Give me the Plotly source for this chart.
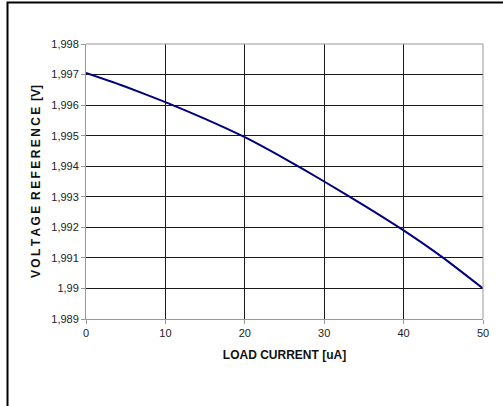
import plotly.graph_objects as go

load_current = [0, 5, 10, 15, 20, 25, 30, 35, 40, 45, 50]
voltage_ref = [1.99705, 1.9966, 1.9961, 1.99555, 1.99495, 1.99425, 1.9935, 1.99272, 1.9919, 1.9910, 1.9900]

y_tickvals = [1.989, 1.990, 1.991, 1.992, 1.993, 1.994, 1.995, 1.996, 1.997, 1.998]
y_ticktext = ["1,989", "1,99", "1,991", "1,992", "1,993", "1,994", "1,995", "1,996", "1,997", "1,998"]
x_tickvals = [0, 10, 20, 30, 40, 50]

W, H = 503, 406
L, R, T, B = 86, 20, 44, 87

fig = go.Figure()
fig.add_trace(go.Scatter(x=load_current, y=voltage_ref, mode="lines",
                         line=dict(color="#000080", width=2, shape="spline", smoothing=0.5),
                         showlegend=False, hoverinfo="skip"))

tick_font = dict(family="Liberation Sans, Arial", size=11, color="#222222")
title_font = dict(family="Liberation Sans, Arial", size=12, color="#111111")

sp = "\u2009"
ytitle = sp.join("VOLTAGE") + sp + " " + sp.join("REFERENCE") + sp + " [V]"

fig.update_layout(
    width=W, height=H,
    margin=dict(l=L, r=R, t=T, b=B),
    paper_bgcolor="white", plot_bgcolor="white",
    font=tick_font,
    xaxis=dict(range=[0, 50], tickvals=x_tickvals, showgrid=True, gridcolor="#1a1a1a", gridwidth=1,
               showline=True, linecolor="#999999", linewidth=1,
               ticks="outside", ticklen=4, tickcolor="#999999", zeroline=False,
               title=dict(text="<b>LOAD CURRENT [uA]</b>", font=title_font, standoff=12),
               tickfont=tick_font),
    yaxis=dict(range=[1.989, 1.998], tickvals=y_tickvals, ticktext=y_ticktext, showgrid=True,
               gridcolor="#1a1a1a", gridwidth=1,
               showline=True, linecolor="#999999", linewidth=1,
               ticks="outside", ticklen=4, tickcolor="#999999", zeroline=False,
               title=dict(text="<b>" + ytitle + "</b>", font=title_font, standoff=8),
               tickfont=tick_font),
)

# plot-area outline (top and right, gray)
fig.add_shape(type="line", xref="paper", yref="paper", x0=0, x1=1, y0=1, y1=1,
              line=dict(color="#999999", width=1))
fig.add_shape(type="line", xref="paper", yref="paper", x0=1, x1=1, y0=0, y1=1,
              line=dict(color="#999999", width=1))

# outer frame: black rectangle whose right/bottom edges fall outside the view
pw = W - L - R
ph = H - T - B
def px(x):
    return (x - L) / pw
def py(y):
    return (H - B - y) / ph
fig.add_shape(type="rect", xref="paper", yref="paper", x0=px(7.5), x1=px(540), y0=py(2.5), y1=py(440),
              line=dict(color="black", width=2), fillcolor="rgba(0,0,0,0)", layer="below")

fig.write_html("out.html",
               config={"displayModeBar": False, "staticPlot": True},
               post_script=("document.documentElement.style.overflow='hidden';"
                            "document.body.style.margin='0';document.body.style.overflow='hidden';"))
